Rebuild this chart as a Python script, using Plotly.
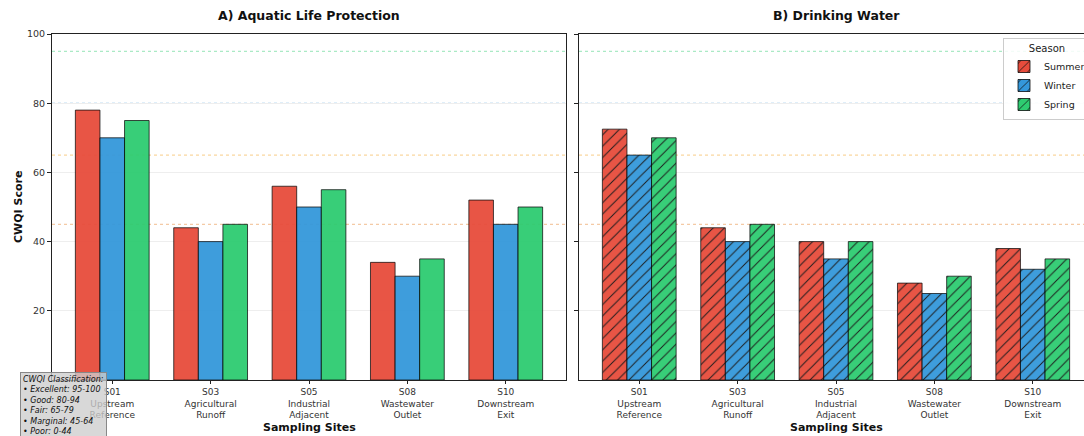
import plotly.graph_objects as go

# Sampling sites and seasonal CWQI scores
sites = ["S01", "S03", "S05", "S08", "S10"]
site_names = ["S01<br>Upstream<br>Reference", "S03<br>Agricultural<br>Runoff",
              "S05<br>Industrial<br>Adjacent", "S08<br>Wastewater<br>Outlet",
              "S10<br>Downstream<br>Exit"]
seasons = ["Summer", "Winter", "Spring"]
season_colors = ["#e74c3c", "#3498db", "#2ecc71"]
y_ticks = [20, 40, 60, 80, 100]

aquatic_summer = [78, 44, 56, 34, 52]
aquatic_winter = [70, 40, 50, 30, 45]
aquatic_spring = [75, 45, 55, 35, 50]

drinking_summer = [72.5, 44, 40, 28, 38]
drinking_winter = [65, 40, 35, 25, 32]
drinking_spring = [70, 45, 40, 30, 35]

# CWQI category thresholds drawn as reference lines
thresholds = [95, 80, 65, 45]
threshold_colors = ["#2ecc71", "#3498db", "#f39c12", "#e67e22"]

aquatic = [aquatic_summer, aquatic_winter, aquatic_spring]
drinking = [drinking_summer, drinking_winter, drinking_spring]

W, H = 1084, 436
FONT = "DejaVu Sans"
x_idx = list(range(len(sites)))

fig = go.Figure()

for name, color, vals in zip(seasons, season_colors, aquatic):
    fig.add_trace(go.Bar(
        x=x_idx, y=vals, name=name, legendgroup=name, showlegend=False,
        marker=dict(color=color, opacity=0.95,
                    line=dict(color="rgba(0,0,0,0.75)", width=1)),
        xaxis="x", yaxis="y", hoverinfo="y"))

for name, color, vals in zip(seasons, season_colors, drinking):
    fig.add_trace(go.Bar(
        x=x_idx, y=vals, name=name, legendgroup=name, showlegend=True,
        marker=dict(color=color, opacity=0.95,
                    line=dict(color="rgba(0,0,0,0.75)", width=1),
                    pattern=dict(shape="/", fgcolor="#111111", size=8,
                                 solidity=0.12, fgopacity=1)),
        xaxis="x2", yaxis="y2", hoverinfo="y"))

# Pixel layout of the two panels
plot_top, plot_bottom = 34, 380
a_left, a_right = 52, 566
b_left = 579
x_lo, x_hi = -0.6125, 4.6125
px_per_unit = (a_right - a_left) / (x_hi - x_lo)
b_hi = x_lo + (W - b_left) / px_per_unit

axis_common = dict(
    showline=True, linecolor="#222222", linewidth=1,
    ticks="outside", tickcolor="#222222", tickwidth=1,
    zeroline=False,
)
xtick_font = dict(family=FONT, size=9, color="#333333")
ytick_font = dict(family=FONT, size=9.5, color="#333333")

fig.update_layout(
    width=W, height=H,
    margin=dict(l=0, r=0, t=plot_top, b=H - plot_bottom, autoexpand=False),
    paper_bgcolor="white", plot_bgcolor="white",
    barmode="group", bargap=0.25, bargroupgap=0,
    font=dict(family=FONT, color="#222222"),
    xaxis=dict(domain=[a_left / W, a_right / W], range=[x_lo, x_hi],
               tickvals=x_idx, ticktext=site_names, mirror=True, ticklen=3,
               tickfont=xtick_font, showgrid=False, anchor="y", **axis_common),
    yaxis=dict(domain=[0, 1], range=[0, 100], tickvals=y_ticks,
               mirror=True, showgrid=True, gridcolor="#eeeeee", gridwidth=1,
               ticklen=4, tickfont=ytick_font, anchor="x", **axis_common),
    xaxis2=dict(domain=[b_left / W, 1.0], range=[x_lo, b_hi],
                tickvals=x_idx, ticktext=site_names, mirror=True, ticklen=3,
                tickfont=xtick_font, showgrid=False, anchor="y2", **axis_common),
    yaxis2=dict(domain=[0, 1], range=[0, 100], tickvals=y_ticks,
                matches="y", showticklabels=False, mirror=False, ticklen=4,
                showgrid=True, gridcolor="#eeeeee", gridwidth=1,
                anchor="x2", **axis_common),
    legend=dict(
        title=dict(text="Season", side="top center",
                   font=dict(family=FONT, size=10, color="#222222")),
        x=1003 / W, xanchor="left",
        y=(plot_bottom - 38) / (plot_bottom - plot_top), yanchor="top",
        bgcolor="rgba(255,255,255,0.85)", bordercolor="#cccccc", borderwidth=1,
        font=dict(family=FONT, size=9.5, color="#222222"),
        itemwidth=30, tracegroupgap=0,
    ),
    showlegend=True,
)

# Classification threshold lines on both panels
shapes = []
for xa, ya in [("x", "y"), ("x2", "y2")]:
    for t, c in zip(thresholds, threshold_colors):
        shapes.append(dict(type="line", xref=f"{xa} domain", yref=ya,
                           x0=0, x1=1, y0=t, y1=t, layer="below",
                           line=dict(color=c, width=1, dash="dot"), opacity=0.5))
fig.update_layout(shapes=shapes)

ph = plot_bottom - plot_top


def py(pixel_y):
    return (plot_bottom - pixel_y) / ph


a_center = (a_left + a_right) / 2 / W
b_center = (b_left + b_left + (a_right - a_left)) / 2 / W

annotations = [
    dict(text="<b>A) Aquatic Life Protection</b>", x=a_center,
         y=py(16), xref="paper", yref="paper", showarrow=False,
         xanchor="center", yanchor="middle",
         font=dict(family=FONT, size=12.5, color="#111111")),
    dict(text="<b>B) Drinking Water</b>", x=b_center,
         y=py(16), xref="paper", yref="paper", showarrow=False,
         xanchor="center", yanchor="middle",
         font=dict(family=FONT, size=12.5, color="#111111")),
    dict(text="<b>Sampling Sites</b>", x=a_center, y=py(427.5),
         xref="paper", yref="paper", showarrow=False,
         xanchor="center", yanchor="middle",
         font=dict(family=FONT, size=11, color="#111111")),
    dict(text="<b>Sampling Sites</b>", x=b_center,
         y=py(427.5), xref="paper", yref="paper", showarrow=False,
         xanchor="center", yanchor="middle",
         font=dict(family=FONT, size=11, color="#111111")),
    dict(text="<b>CWQI Score</b>", x=18 / W, y=0.5, textangle=-90,
         xref="paper", yref="paper", showarrow=False,
         xanchor="center", yanchor="middle",
         font=dict(family=FONT, size=11, color="#111111")),
    dict(text="<i>CWQI Classification:<br>• Excellent: 95-100<br>• Good: 80-94"
              "<br>• Fair: 65-79<br>• Marginal: 45-64<br>• Poor: 0-44</i>",
         x=20 / W, y=py(372), xref="paper", yref="paper", showarrow=False,
         xanchor="left", yanchor="top", align="left",
         bgcolor="rgba(205,205,205,0.78)", bordercolor="#888888", borderwidth=1,
         borderpad=2,
         font=dict(family=FONT, size=8, color="#111111")),
]
fig.update_layout(annotations=annotations)

fig.write_html("out.html")
